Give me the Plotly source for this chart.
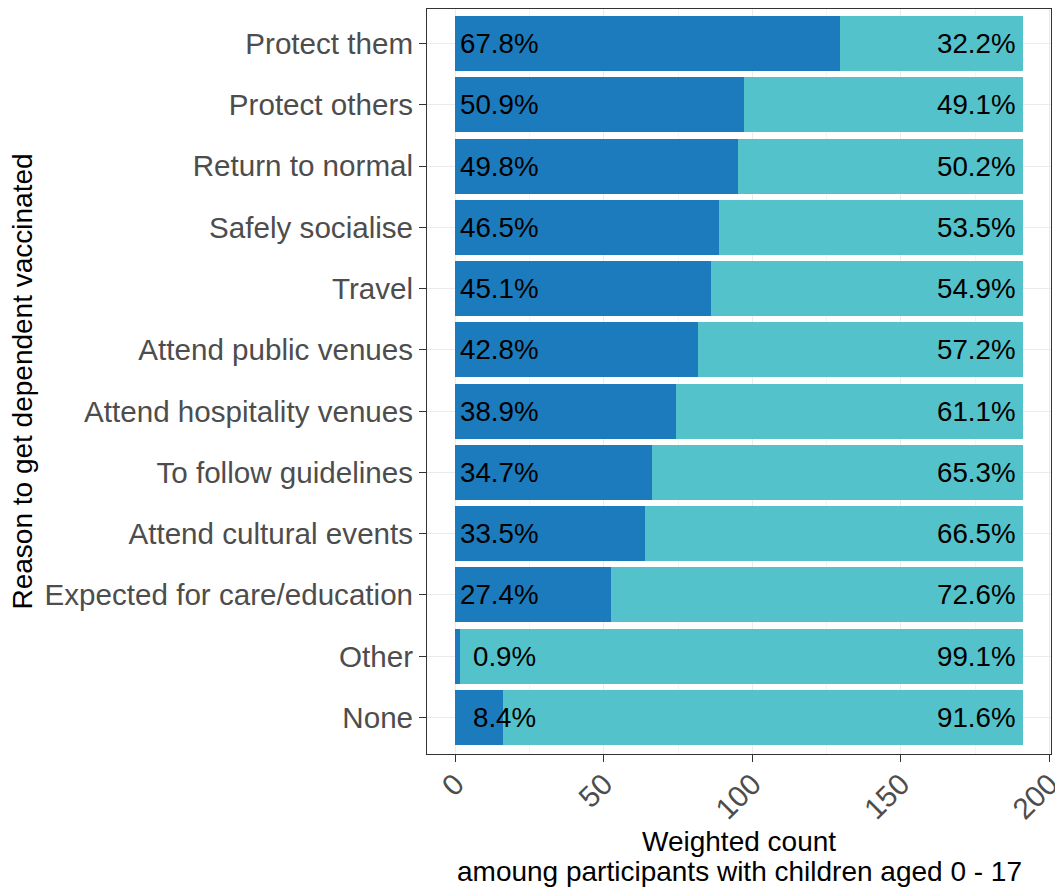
import plotly.graph_objects as go

categories = ["Protect them", "Protect others", "Return to normal", "Safely socialise", "Travel",
              "Attend public venues", "Attend hospitality venues", "To follow guidelines",
              "Attend cultural events", "Expected for care/education", "Other", "None"]
pct_yes = [67.8, 50.9, 49.8, 46.5, 45.1, 42.8, 38.9, 34.7, 33.5, 27.4, 0.9, 8.4]
pct_no = [32.2, 49.1, 50.2, 53.5, 54.9, 57.2, 61.1, 65.3, 66.5, 72.6, 99.1, 91.6]
total_weighted = 191.0
x_ticks = [0, 50, 100, 150, 200]

yes_counts = [p / 100 * total_weighted for p in pct_yes]
no_counts = [p / 100 * total_weighted for p in pct_no]

DARK = "#1C7BBD"
LIGHT = "#54C2CA"
FONT = "Liberation Sans, Arial, sans-serif"

fig = go.Figure()
fig.add_trace(go.Bar(y=categories, x=yes_counts, orientation="h", marker_color=DARK,
                     marker_line_width=0, showlegend=False, hoverinfo="skip"))
fig.add_trace(go.Bar(y=categories, x=no_counts, orientation="h", marker_color=LIGHT,
                     marker_line_width=0, showlegend=False, hoverinfo="skip"))

annotations = []
for c, py, pn in zip(categories, pct_yes, pct_no):
    annotations.append(dict(x=0, y=c, xref="x", yref="y", text=f"{py:.1f}%", showarrow=False,
                            xanchor="left", xshift=15.5 if py < 10 else 2.5,
                            font=dict(family=FONT, size=27.7, color="black")))
    annotations.append(dict(x=total_weighted, y=c, xref="x", yref="y", text=f"{pn:.1f}%",
                            showarrow=False, xanchor="right", xshift=-5,
                            font=dict(family=FONT, size=27.7, color="black")))

annotations.append(dict(x=0.5, y=-0.118, xref="paper", yref="paper", yanchor="middle",
                        text="Weighted count", showarrow=False,
                        font=dict(family=FONT, size=28, color="black")))
annotations.append(dict(x=0.5, y=-0.158, xref="paper", yref="paper", yanchor="middle",
                        text="amoung participants with children aged 0 - 17", showarrow=False,
                        font=dict(family=FONT, size=28, color="black")))
annotations.append(dict(x=-0.649, y=0.5, xref="paper", yref="paper", textangle=-90,
                        xanchor="center", yanchor="middle",
                        text="Reason to get dependent vaccinated", showarrow=False,
                        font=dict(family=FONT, size=28, color="black")))

# page body has an 8px margin, so the figure is sized to fill the rest of the window
fig.update_layout(
    width=1055, height=882,
    margin=dict(l=419, r=12, t=1, b=136, autoexpand=False),
    barmode="stack", bargap=0.1,
    plot_bgcolor="white", paper_bgcolor="white",
    font=dict(family=FONT, size=28, color="#4D4D4D"),
    annotations=annotations,
)

fig.update_xaxes(range=[-9.55, 200.55], tickvals=x_ticks, tickangle=-45, automargin=False,
                 ticklabeloverflow="allow",
                 ticks="outside", ticklen=7, tickcolor="#333333", ticklabelstandoff=-7,
                 tickfont=dict(family=FONT, size=29.6, color="#4D4D4D"),
                 showgrid=True, gridcolor="#EBEBEB", gridwidth=1,
                 minor=dict(dtick=25, showgrid=True, gridcolor="#F4F4F4", gridwidth=1, ticks=""),
                 showline=True, linecolor="#333333", linewidth=1, mirror=True, zeroline=False)
fig.update_yaxes(categoryorder="array", categoryarray=categories[::-1], range=[-0.597, 11.565],
                 automargin=False, ticklabeloverflow="allow",
                 ticks="outside", ticklen=7, tickcolor="#333333",
                 tickfont=dict(family=FONT, size=29.6, color="#4D4D4D"),
                 showgrid=True, gridcolor="#EBEBEB", gridwidth=1,
                 showline=True, linecolor="#333333", linewidth=1, mirror=True)

fig.write_html("out.html")
